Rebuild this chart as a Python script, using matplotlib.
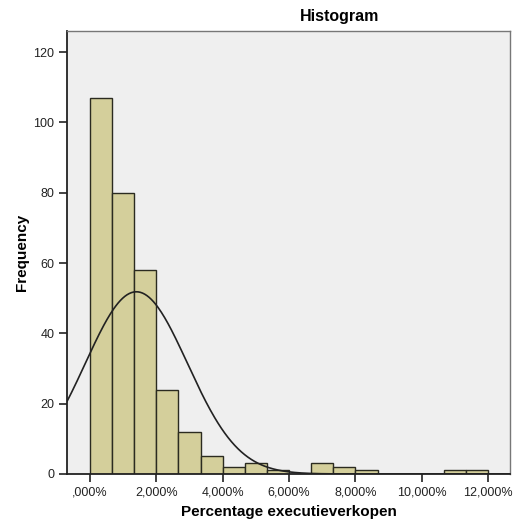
import numpy as np
import matplotlib
matplotlib.use("Agg")
import matplotlib.pyplot as plt

plt.rcParams['font.family'] = ['Liberation Sans', 'DejaVu Sans']

# bin edges (percent) and counts
bin_edges = [0, 0.667, 1.333, 2.0, 2.667, 3.333, 4.0, 4.667, 5.333, 6.0,
             6.667, 7.333, 8.0, 8.667, 9.333, 10.0, 10.667, 11.333, 12.0]
counts = [107, 80, 58, 24, 12, 5, 2, 3, 1, 0, 3, 2, 1, 0, 0, 0, 1, 1]
x_ticks = [0, 2, 4, 6, 8, 10, 12]
x_labels = [',000%', '2,000%', '4,000%', '6,000%', '8,000%', '10,000%', '12,000%']
y_ticks = [0, 20, 40, 60, 80, 100, 120]

# normal curve parameters (SPSS overlay)
mean = 1.40
sd = 1.54
n_total = 300

fig = plt.figure(figsize=(5.17, 5.26), dpi=100)
ax = fig.add_axes([0.1296, 0.0989, 0.857, 0.842])
ax.set_facecolor('#EFEFEF')

widths = np.diff(bin_edges)
ax.bar(bin_edges[:-1], counts, width=widths, align='edge',
       color='#D4CF9B', edgecolor='#2b2b20', linewidth=1.0, zorder=2)

xs = np.linspace(-0.69, 12.66, 400)
bw = widths[0]
ys = n_total * bw / (sd * np.sqrt(2 * np.pi)) * np.exp(-(xs - mean) ** 2 / (2 * sd ** 2))
ax.plot(xs, ys, color='#222222', linewidth=1.2, zorder=3)

ax.set_xlim(-0.69, 12.66)
ax.set_ylim(0, 126)
ax.set_xticks(x_ticks)
ax.set_xticklabels(x_labels)
ax.set_yticks(y_ticks)
ax.tick_params(axis='both', direction='out', length=6, width=1.2,
               colors='#222222', labelsize=9, pad=3)

for side in ['left', 'bottom']:
    ax.spines[side].set_color('#222222')
    ax.spines[side].set_linewidth(1.3)
for side in ['top', 'right']:
    ax.spines[side].set_color('#777777')
    ax.spines[side].set_linewidth(1.0)

ax.set_xlabel('Percentage executieverkopen', fontsize=11, fontweight='bold', labelpad=5)
ax.set_ylabel('Frequency', fontsize=11, fontweight='bold', labelpad=3)
fig.text(340 / 517, 1 - 17 / 526, 'Histogram', ha='center', va='center',
         fontsize=11.5, fontweight='bold')

fig.savefig('out.png', dpi=100, facecolor='white')
